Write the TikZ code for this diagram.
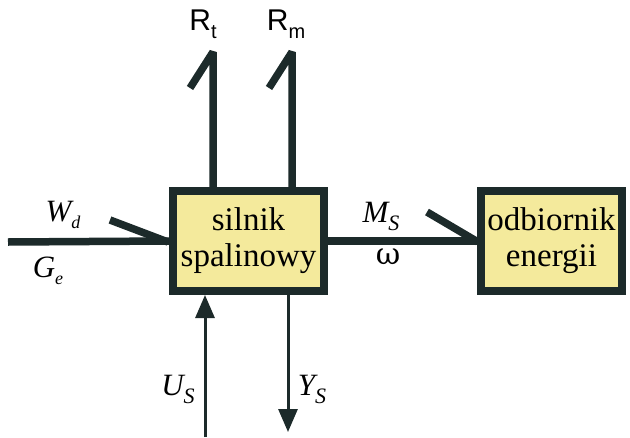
\documentclass[tikz,border=0pt]{standalone}
\usepackage{fontspec}
\setmainfont{Liberation Serif}
\newfontfamily\labsans{Liberation Sans}
\newfontfamily\greekfont{DejaVu Serif}
\usetikzlibrary{arrows.meta}
\definecolor{ink}{HTML}{1C2A2A}
\definecolor{boxfill}{HTML}{F4EA9C}
\begin{document}
\begin{tikzpicture}[x=1pt,y=-1pt,
  blockbox/.style={draw=ink,fill=boxfill,line width=8pt,inner sep=0pt,align=center,font=\fontsize{33}{36}\selectfont},
  thickline/.style={draw=ink,line width=7.5pt},
  thinarrow/.style={draw=ink,line width=3pt,-{Triangle[length=23pt,width=19pt]}},
  lab/.style={font=\fontsize{31}{33}\selectfont\itshape,inner sep=0pt},
  rlab/.style={font=\labsans\fontsize{30}{32}\selectfont,inner sep=0pt}]
\useasboundingbox[fill=white] (0,0) rectangle (630,437);
\coordinate (lin) at (8,242);
\coordinate (wd) at (110,220);
\coordinate (wde) at (168,242);
\coordinate (ms) at (427,212);
\coordinate (mse) at (478,242);
\coordinate (t1) at (213,52);
\coordinate (h1) at (190,88);
\coordinate (t2) at (292,52);
\coordinate (h2) at (269,88);
\coordinate (us) at (205,437);
\coordinate (ys) at (288,432);
\node[blockbox,minimum width=151pt,minimum height=100pt] (main) at (248.5,241) {silnik\\spalinowy};
\node[blockbox,minimum width=141pt,minimum height=100pt] (eng) at (551.5,241) {odbiornik\\energii};
\draw[thickline] (lin) -- (main.west);
\draw[thickline] (wd) -- (wde);
\draw[thickline] (main.east) -- (eng.west);
\draw[thickline] (ms) -- (mse);
\draw[thickline,line join=bevel] (main.north -| t1) -- (t1) -- (h1);
\draw[thickline,line join=bevel] (main.north -| t2) -- (t2) -- (h2);
\draw[thinarrow] (us) -- (main.south -| us);
\draw[thinarrow] (main.south -| ys) -- (ys);
% labels
\node[rlab] (lrt) at (203,24) {R\raisebox{-8pt}{\fontsize{20}{20}\selectfont t}};
\node[rlab] (lrm) at (286,24) {R\raisebox{-8pt}{\fontsize{20}{20}\selectfont m}};
\node[lab] (lwd) at (63,215) {W\raisebox{-7pt}{\fontsize{18}{18}\selectfont d}};
\node[lab] (lge) at (48,271) {G\raisebox{-7pt}{\fontsize{18}{18}\selectfont e}};
\node[lab] (lms) at (381,216) {M\raisebox{-8pt}{\fontsize{22}{22}\selectfont S}};
\node[font=\greekfont\fontsize{30}{32}\selectfont,inner sep=0pt] (lom) at (388,257) {ω};
\node[lab] (lus) at (178,389) {U\raisebox{-8pt}{\fontsize{22}{22}\selectfont S}};
\node[lab] (lys) at (312,389) {Y\raisebox{-8pt}{\fontsize{22}{22}\selectfont S}};
\end{tikzpicture}
\end{document}
